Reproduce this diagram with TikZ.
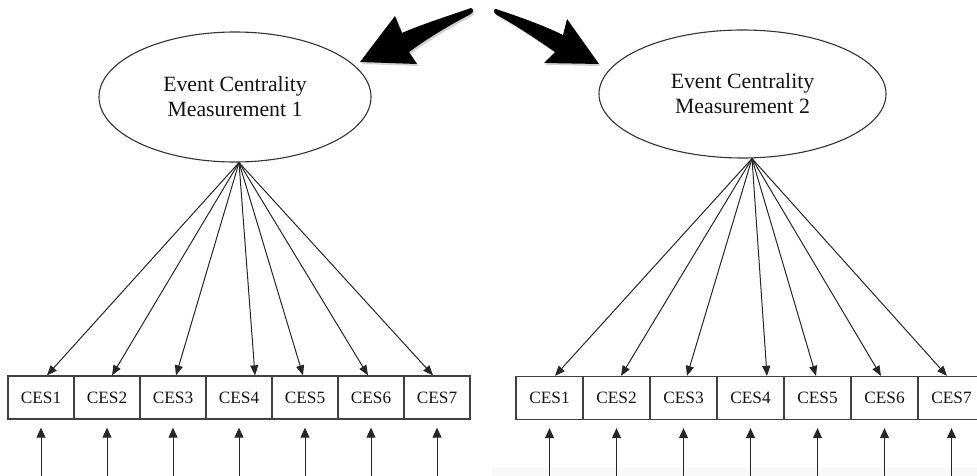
\documentclass[tikz,border=0pt]{standalone}
\usepackage{fontspec}
\setmainfont{Liberation Serif}
\usetikzlibrary{arrows.meta,shapes.geometric}
\begin{document}
\begin{tikzpicture}[x=1pt,y=-1pt,
  latent/.style={draw=black!80,line width=1.1pt,ellipse,inner sep=0pt,align=center,
    font=\fontsize{21.8}{25}\selectfont,text=black!92},
  obs/.style={draw=black!75,line width=1.3pt,rectangle,minimum width=66pt,minimum height=43pt,
    inner sep=0pt,font=\fontsize{17.3}{20}\selectfont,text=black!92},
  fan/.style={draw=black!85,line width=1pt,-{Triangle[length=10pt,width=8pt]}},
  err/.style={draw=black!85,line width=1pt,{Triangle[length=10pt,width=9pt]}-},
  bigarrow/.style={fill=black},
  bigshadow/.style={fill=black!30,opacity=0.6}
]
\useasboundingbox (0,0) rectangle (977,476);
\fill[black!2.5] (492,467) rectangle (977,476);

% big arrows
\fill[bigshadow,shift={(1.5,2)}] (471,8) .. controls (445,17) and (420,25) .. (402,33) -- (395,16) -- (360,62) -- (417,64) -- (409,52) .. controls (428,38) and (450,25) .. (469,15) .. controls (474,13) and (474,9) .. (471,8) -- cycle;
\fill[bigarrow] (471,8) .. controls (445,17) and (420,25) .. (402,33) -- (395,16) -- (360,62) -- (417,64) -- (409,52) .. controls (428,38) and (450,25) .. (469,15) .. controls (474,13) and (474,9) .. (471,8) -- cycle;
\fill[bigshadow,shift={(1.5,2)}] (496,9) .. controls (520,17) and (545,26) .. (563,35) -- (567,19) -- (599,64) -- (544,63) -- (555,52) .. controls (535,38) and (515,25) .. (497,15) .. controls (493,13) and (493,9) .. (496,9) -- cycle;
\fill[bigarrow] (496,9) .. controls (520,17) and (545,26) .. (563,35) -- (567,19) -- (599,64) -- (544,63) -- (555,52) .. controls (535,38) and (515,25) .. (497,15) .. controls (493,13) and (493,9) .. (496,9) -- cycle;

% latent variables
\node[latent,minimum width=272pt,minimum height=130pt] (e1) at (235,97) {Event Centrality\\Measurement 1};
\node[latent,minimum width=287pt,minimum height=128pt] (e2) at (742.5,94) {Event Centrality\\Measurement 2};

% observed boxes
\foreach \i in {1,...,7} {
  \node[obs] (a\i) at ({41+66*(\i-1)},397.5) {CES\i};
  \node[obs,minimum width=67pt] (b\i) at ({549.5+67*(\i-1)},398) {CES\i};
}

% loadings
\foreach \i/\s in {1/6,2/5,3/3,4/16,5/-2,6/-3,7/-4} {
  \draw[fan] ([xshift=4pt]e1.south) -- ([xshift=\s pt]a\i.north);
}
\foreach \i/\s in {1/5.5,2/4.5,3/3.5,4/16.5,5/-1.5,6/-3.5,7/-4.5} {
  \draw[fan] ([xshift=9.5pt]e2.south) -- ([xshift=\s pt]b\i.north);
}

% error arrows
\foreach \i in {1,...,7} {
  \coordinate (ua\i) at ([yshift=-60pt]a\i.south);
  \coordinate (ub\i) at ([yshift=-60pt]b\i.south);
  \draw[err] ([yshift=-8pt]a\i.south) -- (ua\i);
  \draw[err] ([yshift=-8pt]b\i.south) -- (ub\i);
}
\end{tikzpicture}
\end{document}
